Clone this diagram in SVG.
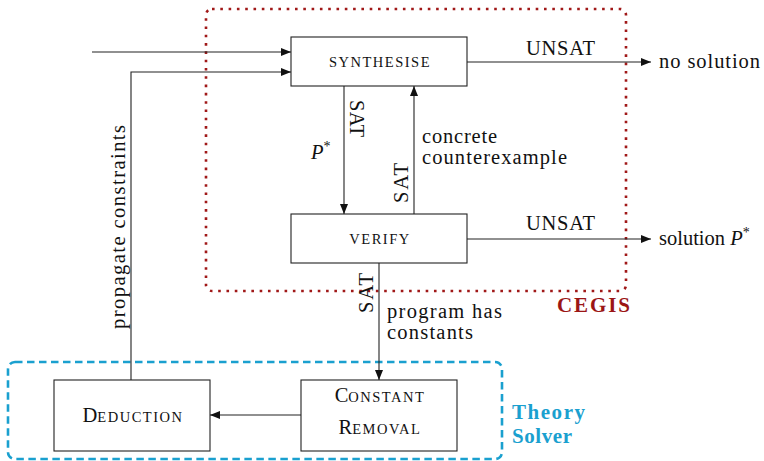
<svg xmlns="http://www.w3.org/2000/svg" width="764" height="461" viewBox="0 0 764 461" font-family="'Liberation Serif', 'DejaVu Serif', serif">
<defs>
<marker id="ah" viewBox="0 0 10 8" refX="10" refY="4" markerWidth="10" markerHeight="8" markerUnits="userSpaceOnUse" orient="auto">
<path d="M0,0 L10,4 L0,8 Z" fill="#111"/>
</marker>
</defs>
<style>
text{font-family:'Liberation Serif','DejaVu Serif',serif;fill:#111}
.t{font-size:20.5px}
.box{fill:#fff;stroke:#222;stroke-width:1.1}
.a{fill:none;stroke:#222;stroke-width:1.1;marker-end:url(#ah)}
.sc{font-size:14.5px;letter-spacing:1.5px}
.big{font-size:20.5px}
.lab{font-size:21px;font-weight:bold}
</style>
<rect x="206" y="9" width="420" height="282" rx="6" fill="none" stroke="#a01818" stroke-width="2.6" stroke-dasharray="2.6 5.7"/>
<text class="lab" x="557" y="312" textLength="73" style="fill:#9b1616">CEGIS</text>
<rect x="8" y="362" width="494" height="97" rx="7" fill="none" stroke="#1aa0cf" stroke-width="2.6" stroke-dasharray="7.5 4.5"/>
<text class="lab" x="512" y="419" textLength="73" style="fill:#1aa0cf">Theory</text>
<text class="lab" x="512" y="443" textLength="60" style="fill:#1aa0cf">Solver</text>
<g id="connectors">
<line class="a" x1="92" y1="52" x2="291" y2="52"/>
<polyline class="a" points="131,380 131,72 291,72"/>
<line class="a" x1="344" y1="86" x2="344" y2="214"/>
<line class="a" x1="414" y1="214" x2="414" y2="86"/>
<line class="a" x1="467" y1="62" x2="651" y2="62"/>
<line class="a" x1="467" y1="239" x2="651" y2="239"/>
<line class="a" x1="379" y1="263" x2="379" y2="380"/>
<line class="a" x1="301" y1="415" x2="210" y2="415"/>
<text class="t" transform="translate(125,125) rotate(-90)" x="-204" textLength="204">propagate constraints</text>
<text class="t" transform="translate(350,100) rotate(90)" textLength="37">SAT</text>
<text class="t" transform="translate(408,203) rotate(-90)" textLength="40">SAT</text>
<text class="t" transform="translate(373,313) rotate(-90)" textLength="40">SAT</text>
<text class="t" x="311" y="159" style="font-style:italic">P<tspan dy="-8" style="font-size:14px;font-style:normal">*</tspan></text>
<text class="t" x="422" y="143" textLength="75">concrete</text>
<text class="t" x="422" y="164" textLength="145">counterexample</text>
<text class="t" x="526" y="55" textLength="69">UNSAT</text>
<text class="t" x="526" y="230" textLength="69">UNSAT</text>
<text class="t" x="387" y="318" textLength="115">program has</text>
<text class="t" x="387" y="339" textLength="86">constants</text>
</g>
<g id="out-nosolution"><text class="t" x="659" y="68" textLength="101">no solution</text></g>
<g id="out-solution"><text class="t" x="659" y="245">solution <tspan style="font-style:italic">P</tspan><tspan dy="-8" style="font-size:14px">*</tspan></text></g>
<g id="synthesise">
<rect class="box" x="291" y="37" width="176" height="49"/>
<text class="sc" x="380" y="67" text-anchor="middle">SYNTHESISE</text>
</g>
<g id="verify">
<rect class="box" x="291" y="214" width="176" height="49"/>
<text class="sc" x="380" y="244" text-anchor="middle">VERIFY</text>
</g>
<g id="deduction">
<rect class="box" x="54" y="380" width="156" height="71"/>
<text x="133" y="422" text-anchor="middle"><tspan class="big">D</tspan><tspan class="sc">EDUCTION</tspan></text>
</g>
<g id="constant-removal">
<rect class="box" x="301" y="380" width="156" height="71"/>
<text x="380" y="402" text-anchor="middle"><tspan class="big">C</tspan><tspan class="sc">ONSTANT</tspan></text>
<text x="380" y="434" text-anchor="middle"><tspan class="big">R</tspan><tspan class="sc">EMOVAL</tspan></text>
</g>
</svg>
